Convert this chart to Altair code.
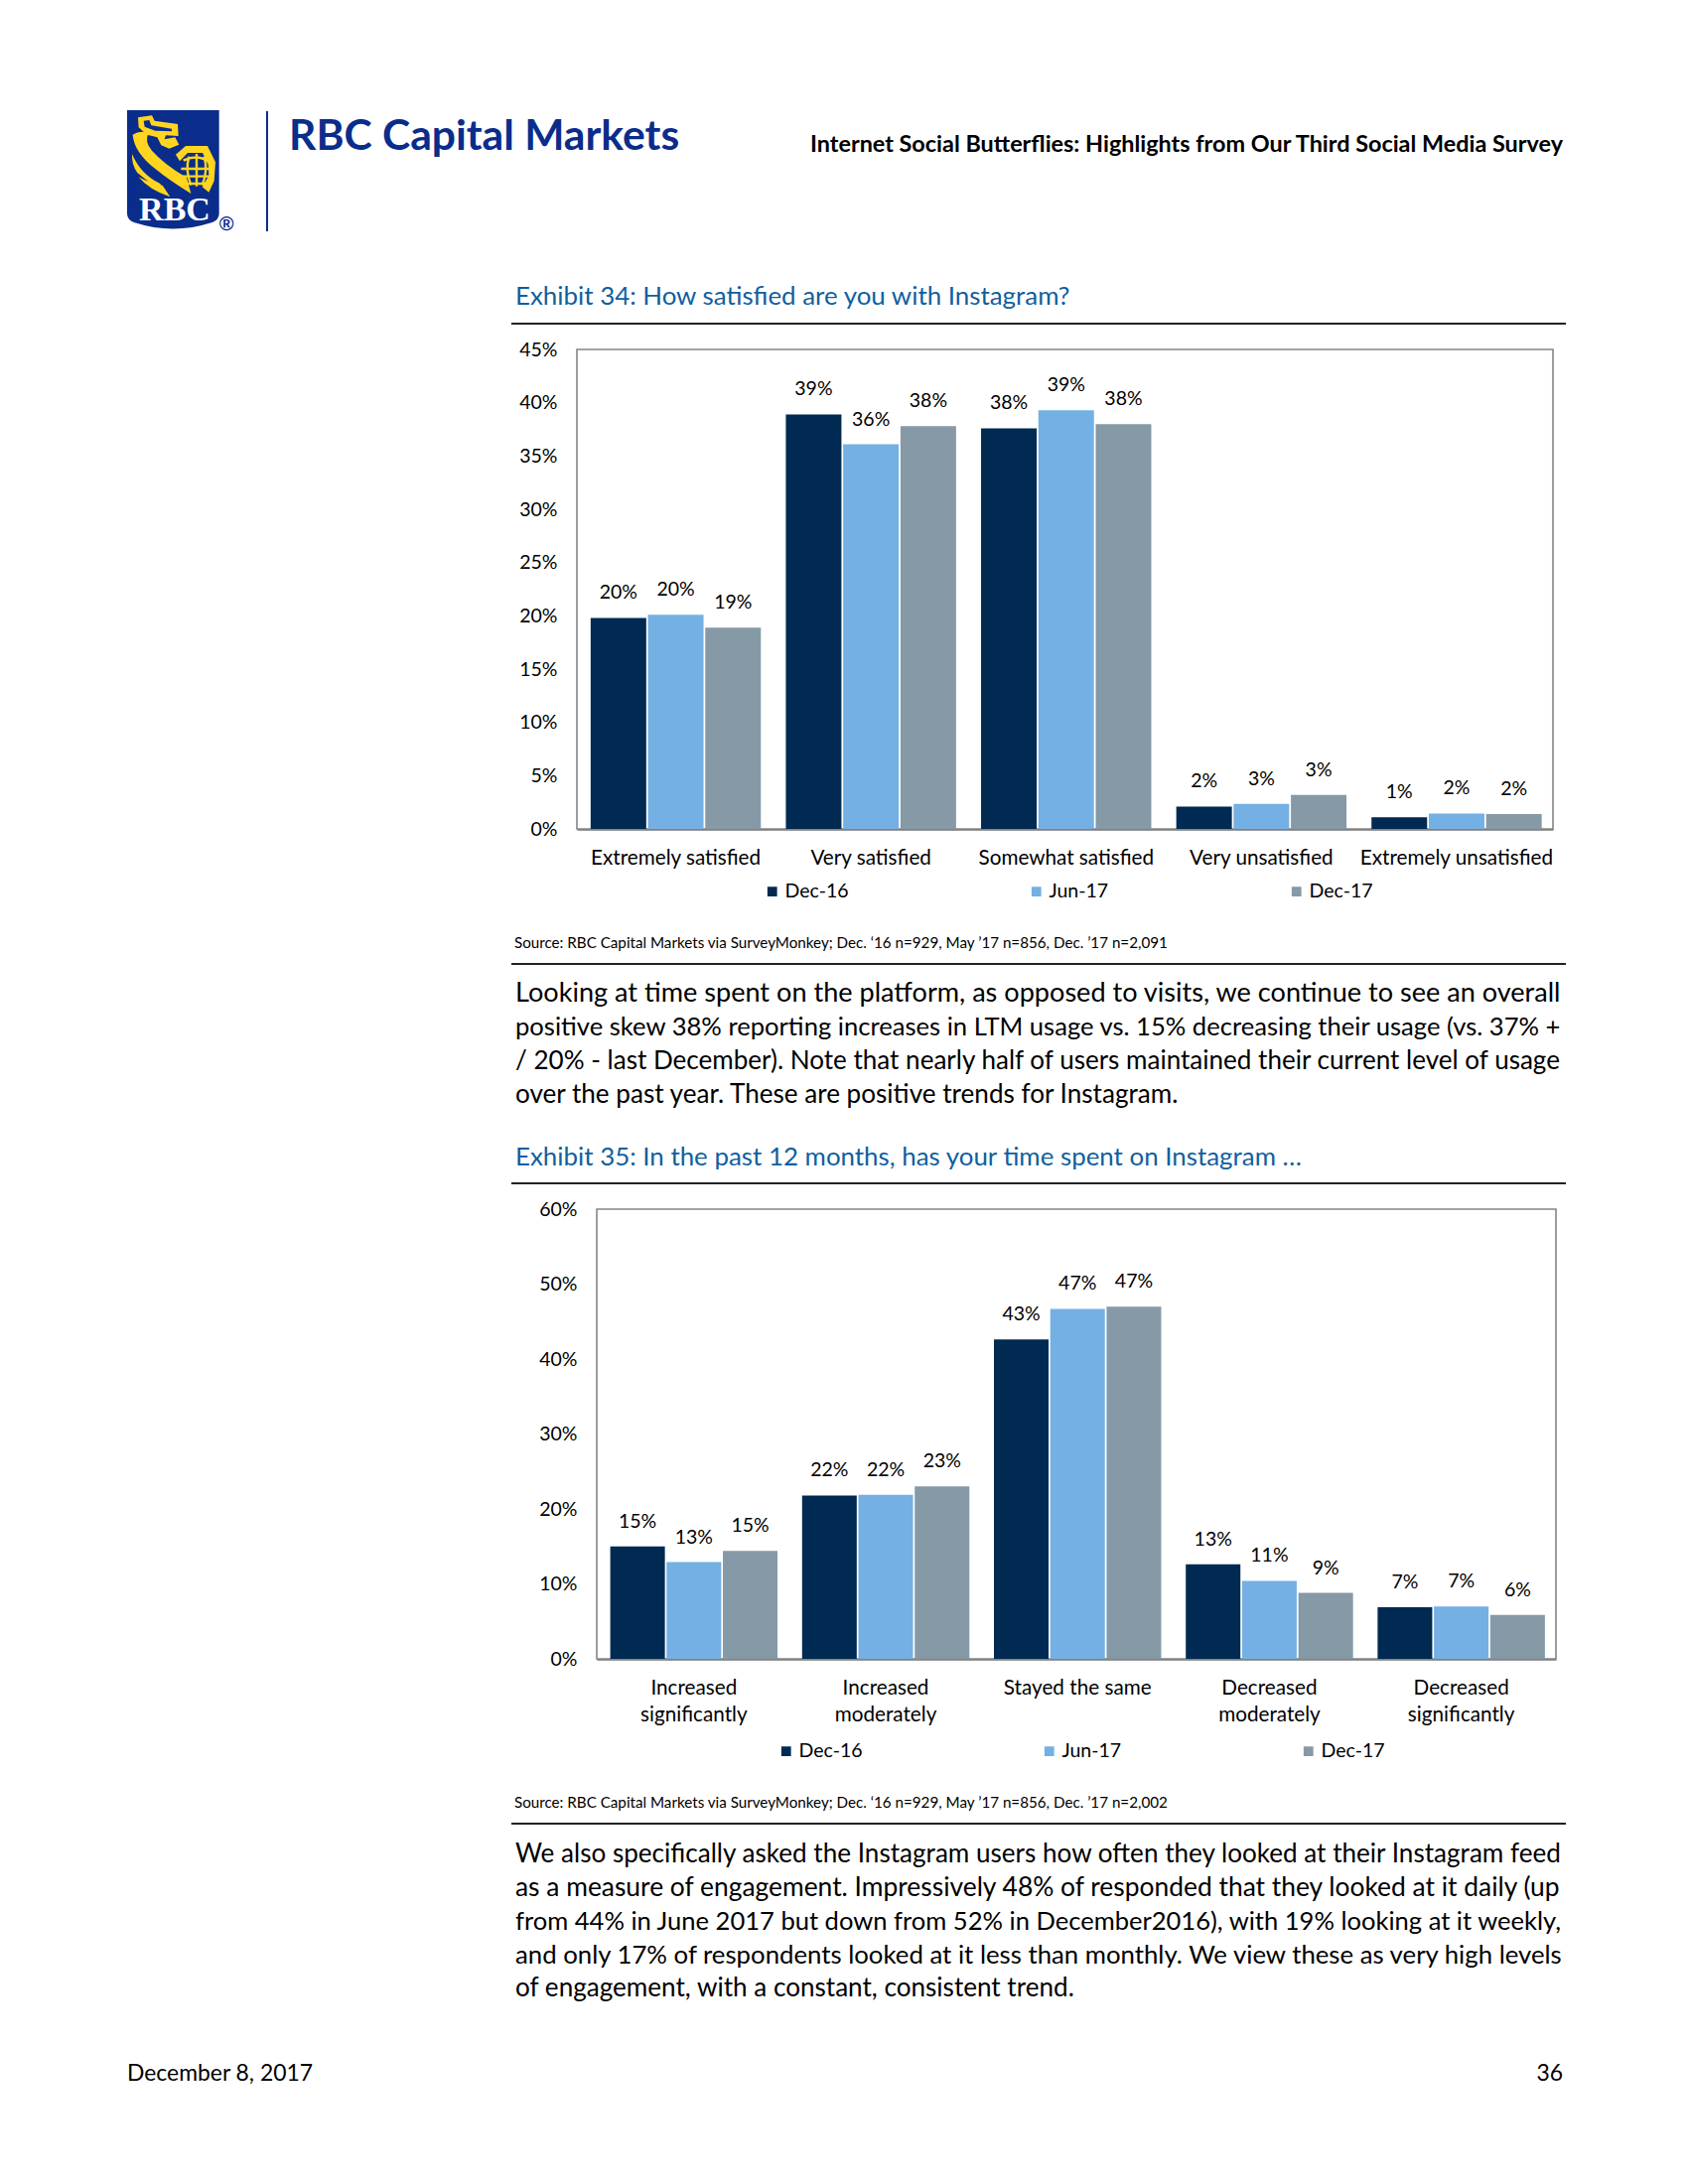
import altair as alt
import pandas as pd

series = ["Dec-16", "Jun-17", "Dec-17"]
colors = ["#012a52", "#74b0e3", "#8699a6"]

cats1 = ["Extremely satisfied", "Very satisfied", "Somewhat satisfied", "Very unsatisfied", "Extremely unsatisfied"]
dec16_1 = [19.8, 38.9, 37.6, 2.1, 1.1]
jun17_1 = [20.1, 36.1, 39.3, 2.35, 1.45]
dec17_1 = [18.9, 37.8, 38.0, 3.2, 1.4]
labels1 = [["20%", "39%", "38%", "2%", "1%"], ["20%", "36%", "39%", "3%", "2%"], ["19%", "38%", "38%", "3%", "2%"]]

cats2 = ["Increased significantly", "Increased moderately", "Stayed the same", "Decreased moderately", "Decreased significantly"]
dec16_2 = [15.0, 21.8, 42.6, 12.6, 6.9]
jun17_2 = [12.9, 21.9, 46.7, 10.4, 7.0]
dec17_2 = [14.4, 23.0, 47.0, 8.8, 5.85]
labels2 = [["15%", "22%", "43%", "13%", "7%"], ["13%", "22%", "47%", "11%", "7%"], ["15%", "23%", "47%", "9%", "6%"]]

para1 = [
    "Looking at time spent on the platform, as opposed to visits, we continue to see an overall",
    "positive skew 38% reporting increases in LTM usage vs. 15% decreasing their usage (vs. 37% +",
    "/ 20% - last December). Note that nearly half of users maintained their current level of usage",
    "over the past year. These are positive trends for Instagram.",
]
para1_sizes = [27.1, 25.6, 26.05, 26.1]
para2 = [
    "We also specifically asked the Instagram users how often they looked at their Instagram feed",
    "as a measure of engagement. Impressively 48% of responded that they looked at it daily (up",
    "from 44% in June 2017 but down from 52% in December2016), with 19% looking at it weekly,",
    "and only 17% of respondents looked at it less than monthly. We view these as very high levels",
    "of engagement, with a constant, consistent trend.",
]
para2_sizes = [26.1, 26.4, 25.55, 25.75, 26.1]

FONT = "Lato"
PAGE_W, PAGE_H = 1684, 2184
BLUE = "#0a2d8c"


def table(cats, vals, labs):
    rows = []
    for s, v, l in zip(series, vals, labs):
        for c, a, b in zip(cats, v, l):
            rows.append({"cat": c, "series": s, "v": a, "lab": b})
    return pd.DataFrame(rows)


def txt(s, x, y, size=20, color="#000000", align="left", weight="normal", font=FONT, baseline="middle"):
    return alt.Chart(pd.DataFrame({"t": [s]})).mark_text(
        align=align, baseline=baseline, fontSize=size, color=color, fontWeight=weight, font=font
    ).encode(x=alt.value(x - 8), y=alt.value(y - 8), text="t:N")


def rule(x0, x1, y, color="#222222", w=2):
    return alt.Chart(pd.DataFrame({"a": [0]})).mark_rule(color=color, strokeWidth=w).encode(
        x=alt.value(x0 - 8), x2=alt.value(x1 - 8), y=alt.value(y - 8))


def chart(cats, vals, labs, x0, x1, y0, y1, ymax, step, legx, legy, colpad, labexpr=None):
    df = table(cats, vals, labs)
    xs = alt.Scale(type="band", domain=cats, range=[x0 - 8, x1 - 8], paddingInner=0.128, paddingOuter=0.064, align=0.55)
    os = alt.Scale(type="band", domain=series, paddingInner=0.03, paddingOuter=0)
    ys = alt.Scale(domain=[0, ymax], range=[y1 - 8, y0 - 8], nice=False)
    xa = alt.Axis(title=None, orient="bottom", offset=-(PAGE_H - (y1 - 8)), labelAngle=0, ticks=False, labelFont=FONT,
                  labelFontSize=20.7, labelColor="#000000", domainColor="#7a7a7a", domainWidth=2.5, labelPadding=19,
                  labelLimit=300, grid=False, labelLineHeight=27, **({"labelExpr": labexpr} if labexpr else {}))
    ya = alt.Axis(title=None, orient="left", offset=-(x0 - 8), values=list(range(0, ymax + 1, step)),
                  labelExpr="datum.value + '%'", ticks=False, labelFont=FONT, labelFontSize=19.5, labelColor="#000000",
                  domain=False, labelPadding=20, grid=False)
    frame = alt.Chart(pd.DataFrame({"a": [0]})).mark_rect(fill="#ffffff", stroke="#858585", strokeWidth=1.6).encode(
        x=alt.value(x0 - 8), x2=alt.value(x1 - 8), y=alt.value(y0 - 8), y2=alt.value(y1 - 8))
    bars = alt.Chart(df).mark_bar().encode(
        x=alt.X("cat:N", scale=xs, sort=cats, axis=xa),
        xOffset=alt.XOffset("series:N", scale=os, sort=series),
        y=alt.Y("v:Q", scale=ys, axis=ya),
        color=alt.Color("series:N", sort=series, scale=alt.Scale(domain=series, range=colors), legend=alt.Legend(
            title=None, orient="none", legendX=legx - 8, legendY=legy - 8, direction="horizontal", symbolType="square",
            symbolSize=95, symbolStrokeWidth=0, labelFont=FONT, labelFontSize=19.5, labelColor="#000000", columns=3,
            columnPadding=colpad, labelOffset=3, padding=0)),
    )
    text = alt.Chart(df).mark_text(baseline="bottom", dy=-15, fontSize=19.5, font=FONT, color="#000000").encode(
        x=alt.X("cat:N", scale=xs, sort=cats, axis=None),
        xOffset=alt.XOffset("series:N", scale=os, sort=series),
        y=alt.Y("v:Q", scale=ys, axis=None),
        text="lab:N",
    )
    return [frame, bars, text]


def logo():
    def norm(path):
        out = []
        for p in path.split():
            if p[0].isalpha():
                letter, rest = p[0], p[1:]
            else:
                letter, rest = "", p
            if rest:
                a, b = rest.split(",")
                out.append(f"{letter}{(float(a) - 164.5) / 180:.4f},{(float(b) - 196.5) / 180:.4f}")
            else:
                out.append(letter)
        return " ".join(out)

    def shape(path, fill=None, stroke=None, w=0):
        kw = {"filled": fill is not None}
        if fill:
            kw["color"] = fill
        if stroke:
            kw["color"] = stroke
            kw["strokeWidth"] = w
        return alt.Chart(pd.DataFrame({"a": [0]})).mark_point(shape=norm(path), size=14400, opacity=1, **kw).encode(
            x=alt.value(174.5 - 8), y=alt.value(170.5 - 8))

    Y = "#ffd520"
    B = "#0a2d8c"
    out = [shape("M25,18 L303,18 L303,330 Q303,350 280,358 Q164,395 48,358 Q25,350 25,330 Z", fill=B)]
    out.append(shape("M58,40 L100,34 L108,50 L178,60 L180,96 L142,94 L138,106 L170,100 L182,122 L152,134 L128,124 "
                     "L116,100 L85,92 L60,70 Z", fill=Y))
    out.append(shape("M75,50 L92,48 L98,64 L160,74 L160,82 L110,80 L78,68 Z", fill=B))
    out.append(shape("M42,92 Q46,145 110,195 Q150,228 218,270 L205,222 Q135,180 100,140 Q76,112 90,86 Q62,78 42,92 Z", fill=Y))
    out.append(shape("M40,150 Q66,212 125,240 L142,274 Q95,240 56,207 Q38,182 40,150 Z", fill=Y))
    out.append(shape("M60,220 Q90,258 155,280 L132,245 Q95,240 60,220 Z", fill=Y))
    out.append(shape("M172,152 L202,126 L268,126 L292,175 L288,232 L272,266 L252,250 L272,215 L270,182 L253,147 L208,147 "
                     "L184,172 Z", fill=Y))
    out.append(shape("M195,170 Q235,150 270,172 M188,195 L278,195 M190,218 L275,218 M205,240 L262,240 "
                     "M235,150 L235,248 M212,158 Q200,200 218,245 M258,158 Q270,200 252,245",
                     stroke=Y, w=2.4))
    out.append(txt("RBC", 176, 222, size=34, color="#ffffff", align="center", weight="bold", font="Liberation Serif",
                   baseline="alphabetic"))
    out.append(txt("\u00ae", 228, 226, size=20, color=B, align="center", weight="bold", font="Liberation Sans"))
    return out


layers = []
layers += logo()
layers.append(alt.Chart(pd.DataFrame({"a": [0]})).mark_rule(color=BLUE, strokeWidth=2).encode(
    x=alt.value(269 - 8), y=alt.value(112 - 8), y2=alt.value(233 - 8)))
layers.append(txt("RBC Capital Markets", 291, 151, size=42.6, color=BLUE, weight="bold", font="Lato", baseline="alphabetic"))
layers.append(txt("Internet Social Butterflies: Highlights from Our Third Social Media Survey", 1574, 146, size=23.4, align="right", weight="bold"))

layers.append(txt("Exhibit 34: How satisfied are you with Instagram?", 519, 299, size=25.9, color="#0f5f9f"))
layers.append(rule(515, 1577, 326))
layers += chart(cats1, [dec16_1, jun17_1, dec17_1], labels1, 581, 1564, 352, 835, 45, 5, 768, 888, 179)
layers.append(txt("Source: RBC Capital Markets via SurveyMonkey; Dec. \u201816 n=929, May \u201917 n=856, Dec. \u201917 n=2,091", 518, 950, size=15.2))
layers.append(rule(515, 1577, 971))
for ln, y, s in zip(para1, [1001, 1035, 1069, 1103], para1_sizes):
    layers.append(txt(ln, 519, y, size=s))

layers.append(txt("Exhibit 35: In the past 12 months, has your time spent on Instagram \u2026", 519, 1166, size=25.9, color="#0f5f9f"))
layers.append(rule(515, 1577, 1192))
layers += chart(cats2, [dec16_2, jun17_2, dec17_2], labels2, 601, 1567, 1218, 1671, 60, 10, 782, 1754, 178,
                labexpr="datum.label == 'Stayed the same' ? datum.label : split(datum.label, ' ')")
layers.append(txt("Source: RBC Capital Markets via SurveyMonkey; Dec. \u201816 n=929, May \u201917 n=856, Dec. \u201917 n=2,002", 518, 1816, size=15.2))
layers.append(rule(515, 1577, 1837))
for ln, y, s in zip(para2, [1868, 1902, 1936, 1970, 2003], para2_sizes):
    layers.append(txt(ln, 519, y, size=s))

layers.append(txt("December 8, 2017", 128, 2089, size=22.9))
layers.append(txt("36", 1574, 2089, size=22.9, align="right"))

page = alt.layer(*layers).resolve_scale(
    x="independent", y="independent", color="independent", xOffset="independent"
).resolve_axis(x="independent", y="independent").resolve_legend(color="independent").properties(
    width=PAGE_W, height=PAGE_H, padding=0, background="#ffffff",
    autosize=alt.AutoSizeParams(type="none"),
).configure_view(stroke=None)

page.save("out.html", embed_options={"renderer": "svg", "actions": False})
